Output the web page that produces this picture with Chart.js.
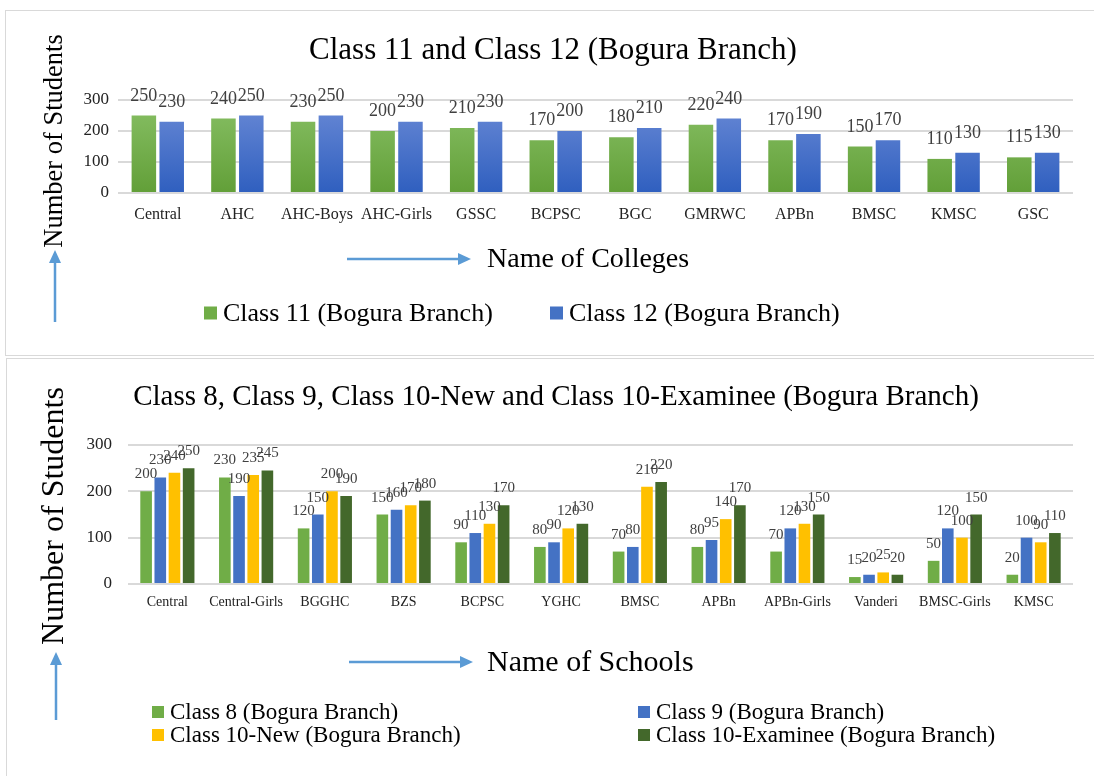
<!DOCTYPE html>
<html>
<head>
<meta charset="utf-8">
<script src="https://cdn.jsdelivr.net/npm/chart.js@4.4.1/dist/chart.umd.min.js"></script>
<style>
  html, body { margin: 0; padding: 0; background: #fff; width: 1094px; height: 776px; overflow: hidden; }
  .panel { position: absolute; border: 1px solid #d9d9d9; box-sizing: border-box; }
  canvas { position: absolute; left: 0; }
</style>
</head>
<body>
<div class="panel" style="left:5px; top:10px; width:1100px; height:346px;"></div>
<div class="panel" style="left:6px; top:358px; width:1100px; height:430px;"></div>
<canvas id="c1" width="1094" height="356" style="top:0px;"></canvas>
<canvas id="c2" width="1094" height="419" style="top:357px;"></canvas>
<script>
// ---------- Data: Chart 1 (Colleges) ----------
const colleges = ["Central","AHC","AHC-Boys","AHC-Girls","GSSC","BCPSC","BGC","GMRWC","APBn","BMSC","KMSC","GSC"];
const class11 = [250,240,230,200,210,170,180,220,170,150,110,115];
const class12 = [230,250,250,230,230,200,210,240,190,170,130,130];
const collegeSeriesNames = ["Class 11 (Bogura Branch)","Class 12 (Bogura Branch)"];

// ---------- Data: Chart 2 (Schools) ----------
const schools = ["Central","Central-Girls","BGGHC","BZS","BCPSC","YGHC","BMSC","APBn","APBn-Girls","Vanderi","BMSC-Girls","KMSC"];
const class8 = [200,230,120,150,90,80,70,80,70,15,50,20];
const class9 = [230,190,150,160,110,90,80,95,120,20,120,100];
const class10New = [240,235,200,170,130,120,210,140,130,25,100,90];
const class10Exam = [250,245,190,180,170,130,220,170,150,20,150,110];
const schoolSeriesNames = ["Class 8 (Bogura Branch)","Class 9 (Bogura Branch)","Class 10-New (Bogura Branch)","Class 10-Examinee (Bogura Branch)"];

const yTicks = [0,100,200,300];

const SERIF = "'Liberation Serif', 'Times New Roman', serif";

function gradientFill(top, bottom, solid) {
  return (ctx) => {
    const area = ctx.chart.chartArea;
    if (!area) return solid;
    const g = ctx.chart.ctx.createLinearGradient(0, area.top, 0, area.bottom);
    g.addColorStop(0, top);
    g.addColorStop(1, bottom);
    return g;
  };
}

function drawArrow(ctx, x1, y1, x2, y2, color) {
  const ang = Math.atan2(y2 - y1, x2 - x1);
  const head = 13, half = 6;
  const bx = x2 - head * Math.cos(ang), by = y2 - head * Math.sin(ang);
  ctx.save();
  ctx.strokeStyle = color; ctx.fillStyle = color; ctx.lineWidth = 2.5;
  ctx.beginPath(); ctx.moveTo(x1, y1); ctx.lineTo(bx, by); ctx.stroke();
  ctx.beginPath();
  ctx.moveTo(x2, y2);
  ctx.lineTo(bx + half * Math.sin(ang), by - half * Math.cos(ang));
  ctx.lineTo(bx - half * Math.sin(ang), by + half * Math.cos(ang));
  ctx.closePath(); ctx.fill();
  ctx.restore();
}

// Plugin: value labels above bars + decorations
function makeDecorPlugin(cfg) {
  return {
    id: 'decor',
    afterDatasetsDraw(chart) {
      const ctx = chart.ctx;
      ctx.save();
      ctx.font = cfg.labelFont;
      ctx.fillStyle = '#404040';
      ctx.textAlign = 'center';
      ctx.textBaseline = 'alphabetic';
      chart.data.datasets.forEach((ds, i) => {
        const meta = chart.getDatasetMeta(i);
        meta.data.forEach((bar, j) => {
          ctx.fillText(String(ds.data[j]), bar.x, bar.y - cfg.labelGap);
        });
      });
      ctx.restore();
    },
    afterDraw(chart) {
      const ctx = chart.ctx;
      ctx.save();
      // Title
      ctx.fillStyle = '#000';
      ctx.textAlign = 'center';
      ctx.textBaseline = 'middle';
      ctx.font = cfg.titleFont;
      ctx.fillText(cfg.title, cfg.titleX, cfg.titleY);
      // X axis title
      ctx.font = cfg.xTitleFont;
      ctx.textAlign = 'left';
      ctx.fillText(cfg.xTitle, cfg.xTitleX, cfg.xTitleY);
      drawArrow(ctx, cfg.hArrow[0], cfg.hArrow[1], cfg.hArrow[2], cfg.hArrow[3], '#5b9bd5');
      // Y axis title (rotated)
      ctx.save();
      ctx.translate(cfg.yTitleX, cfg.yTitleY);
      ctx.rotate(-Math.PI / 2);
      ctx.textAlign = 'center';
      ctx.font = cfg.yTitleFont;
      ctx.fillText('Number of Students', 0, 0);
      ctx.restore();
      drawArrow(ctx, cfg.vArrow[0], cfg.vArrow[1], cfg.vArrow[2], cfg.vArrow[3], '#5b9bd5');
      // Legend
      ctx.font = cfg.legendFont;
      ctx.textAlign = 'left';
      ctx.textBaseline = 'middle';
      chart.data.datasets.forEach((ds, i) => {
        const p = cfg.legendPos[i];
        ctx.fillStyle = ds.legendColor;
        ctx.fillRect(p[0], p[1] - cfg.boxSize / 2, cfg.boxSize, cfg.boxSize);
        ctx.fillStyle = '#000';
        ctx.fillText(ds.label, p[0] + cfg.boxSize + cfg.boxGap, p[1] + 1);
      });
      ctx.restore();
    }
  };
}

function baseOptions(o) {
  return {
    responsive: false,
    animation: false,
    layout: { padding: { left: 0, right: o.padRight, top: o.padTop, bottom: o.padBottom } },
    plugins: { legend: { display: false }, title: { display: false }, tooltip: { enabled: false } },
    scales: {
      x: {
        grid: { display: false, drawTicks: false },
        border: { display: false },
        ticks: { color: '#222', font: { family: SERIF, size: o.xTickSize }, padding: o.xTickPad, autoSkip: false, maxRotation: 0 },
        afterFit(scale) { scale.height = o.xHeight; }
      },
      y: {
        min: 0, max: 300,
        afterBuildTicks(scale) { scale.ticks = yTicks.map(v => ({ value: v })); },
        grid: { color: '#d9d9d9', lineWidth: 2, drawTicks: false },
        border: { display: false },
        ticks: { color: '#222', font: { family: SERIF, size: o.yTickSize }, padding: o.yTickPad },
        afterFit(scale) { scale.width = o.yWidth; }
      }
    }
  };
}

// ---------- Chart 1 ----------
new Chart(document.getElementById('c1'), {
  type: 'bar',
  data: {
    labels: colleges,
    datasets: [
      { label: collegeSeriesNames[0], data: class11, legendColor: '#70ad47',
        backgroundColor: gradientFill('#88c065', '#629f38', '#70ad47'),
        categoryPercentage: 0.7, barPercentage: 0.88 },
      { label: collegeSeriesNames[1], data: class12, legendColor: '#4472c4',
        backgroundColor: gradientFill('#6a8ad6', '#2f5fbf', '#4472c4'),
        categoryPercentage: 0.7, barPercentage: 0.88 }
    ]
  },
  options: baseOptions({ padRight: 21, padTop: 100, padBottom: 133, xHeight: 30, xTickSize: 16, xTickPad: 12, yTickSize: 17, yTickPad: 9, yWidth: 118 }),
  plugins: [makeDecorPlugin({
    labelFont: '18px ' + SERIF, labelGap: 15,
    title: 'Class 11 and Class 12 (Bogura Branch)', titleFont: '31px ' + SERIF, titleX: 553, titleY: 51,
    xTitle: 'Name of Colleges', xTitleFont: '28px ' + SERIF, xTitleX: 487, xTitleY: 260,
    hArrow: [347, 259, 471, 259],
    yTitleX: 55, yTitleY: 141, yTitleFont: '26.5px ' + SERIF,
    vArrow: [55, 322, 55, 250],
    legendFont: '26px ' + SERIF, boxSize: 13, boxGap: 6,
    legendPos: [[204, 313], [550, 313]]
  })]
});

// ---------- Chart 2 ----------
const cp = 0.72, bp = 0.82;
new Chart(document.getElementById('c2'), {
  type: 'bar',
  data: {
    labels: schools,
    datasets: [
      { label: schoolSeriesNames[0], data: class8, backgroundColor: '#70ad47', legendColor: '#70ad47', categoryPercentage: cp, barPercentage: bp },
      { label: schoolSeriesNames[1], data: class9, backgroundColor: '#4472c4', legendColor: '#4472c4', categoryPercentage: cp, barPercentage: bp },
      { label: schoolSeriesNames[2], data: class10New, backgroundColor: '#ffc000', legendColor: '#ffc000', categoryPercentage: cp, barPercentage: bp },
      { label: schoolSeriesNames[3], data: class10Exam, backgroundColor: '#43682b', legendColor: '#43682b', categoryPercentage: cp, barPercentage: bp }
    ]
  },
  options: baseOptions({ padRight: 21, padTop: 88, padBottom: 162, xHeight: 30, xTickSize: 14, xTickPad: 10, yTickSize: 17, yTickPad: 16, yWidth: 128 }),
  plugins: [makeDecorPlugin({
    labelFont: '15px ' + SERIF, labelGap: 13,
    title: 'Class 8, Class 9, Class 10-New and Class 10-Examinee (Bogura Branch)', titleFont: '29px ' + SERIF, titleX: 556, titleY: 40,
    xTitle: 'Name of Schools', xTitleFont: '30px ' + SERIF, xTitleX: 487, xTitleY: 306,
    hArrow: [349, 305, 473, 305],
    yTitleX: 55, yTitleY: 159, yTitleFont: '32px ' + SERIF,
    vArrow: [56, 363, 56, 295],
    legendFont: '23px ' + SERIF, boxSize: 12, boxGap: 6,
    legendPos: [[152, 355], [638, 355], [152, 378], [638, 378]]
  })]
});
</script>
</body>
</html>
